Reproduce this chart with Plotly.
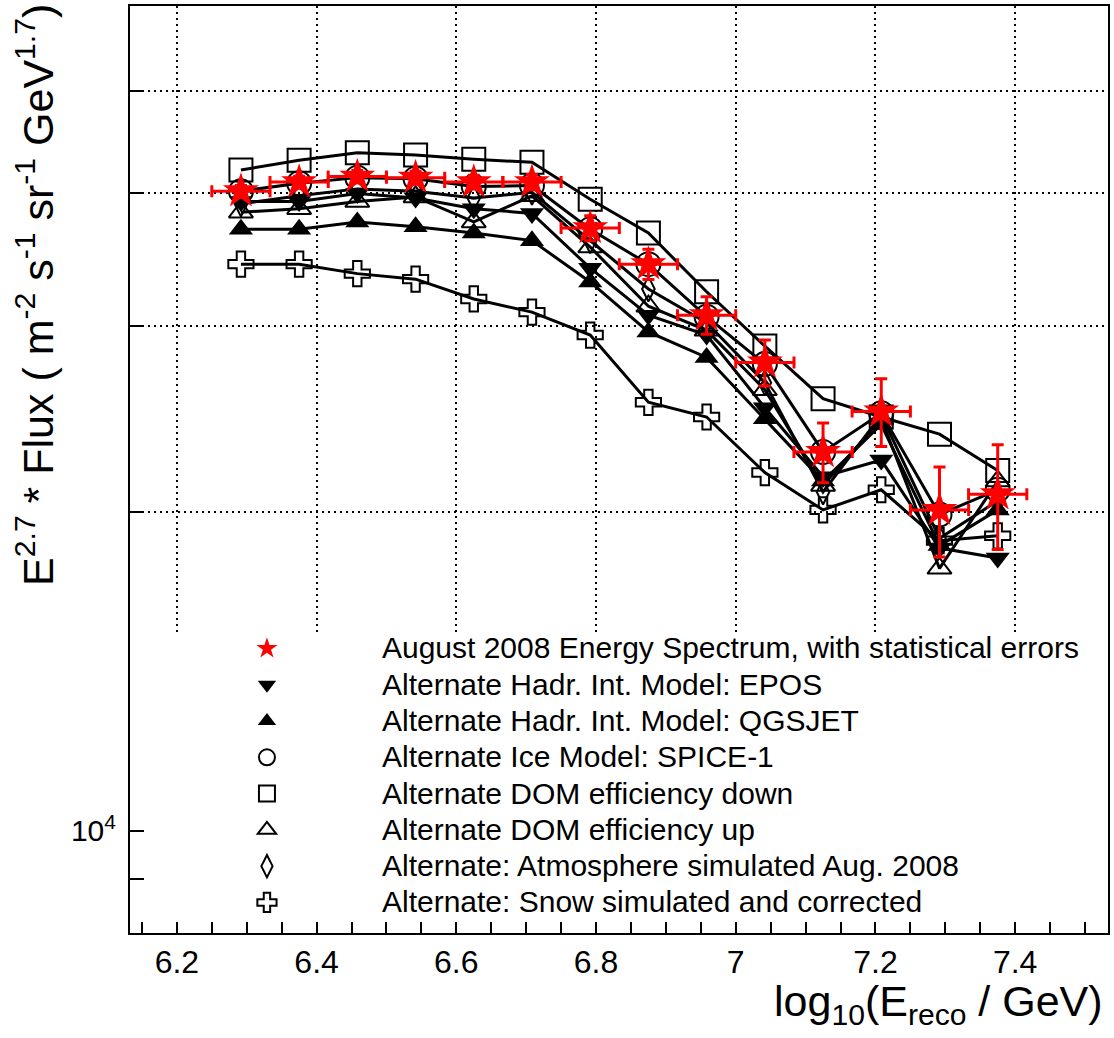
import plotly.graph_objects as go

# ---------------- data ----------------
log_e_reco = [6.2917, 6.375, 6.4583, 6.5417, 6.625, 6.7083, 6.7917,
              6.875, 6.9583, 7.0417, 7.125, 7.2083, 7.2917, 7.375]
bin_half_width = 0.0417

aug2008 = [40200, 41000, 41500, 41400, 41000, 41000, 37100,
           34300, 30700, 27700, 22800, 24900, 20100, 20800]
aug2008_err = [500, 520, 550, 580, 620, 680, 1000,
               1120, 1250, 1380, 1480, 1830, 1960, 2360]

epos = [39300, 39300, 40000, 39600, 38700, 38300, 34000,
        30700, 29400, 25100, 21600, 22400, 18500, 18100]
qgsjet = [37000, 37000, 37600, 37200, 36700, 36100, 33000,
          29600, 28000, 24500, 21400, 24200, 18600, 20100]
spice1 = [40200, 40900, 41400, 41300, 40600, 40700, 37000,
          34300, 30600, 27600, 22800, 24800, 19900, 21000]
dom_down = [42100, 43000, 43700, 43500, 43100, 42800, 39500,
            36700, 32300, 28700, 25600, 24600, 23700, 21900]
dom_up = [38400, 38700, 39300, 39700, 37600, 39800, 35600,
          31300, 29700, 26100, 21200, 24500, 17700, 21400]
atmosphere = [39100, 39800, 40400, 40200, 39600, 40100, 36100,
              32500, 30200, 26500, 20900, 24700, 18900, 20500]
snow = [34300, 34300, 33600, 33200, 31800, 30900, 29400,
        25400, 24600, 21800, 20100, 21000, 18800, 19000]

y_label_vals = [9000, 10000]
y_label_text = ["", "10<sup>4</sup>"]
y_grid_vals = [20000, 30000, 40000, 50000]

FONT = "Liberation Sans, Arial, Helvetica, sans-serif"

series = [
    ("Alternate Hadr. Int. Model: EPOS", epos,
     dict(symbol="triangle-down", size=21, color="black")),
    ("Alternate Hadr. Int. Model: QGSJET", qgsjet,
     dict(symbol="triangle-up", size=21, color="black")),
    ("Alternate Ice Model: SPICE-1", spice1,
     dict(symbol="circle-open", size=24, color="black", line=dict(width=2, color="black"))),
    ("Alternate DOM efficiency down", dom_down,
     dict(symbol="square-open", size=23, color="black", line=dict(width=2, color="black"))),
    ("Alternate DOM efficiency up", dom_up,
     dict(symbol="triangle-up-open", size=21, color="black", line=dict(width=2, color="black"))),
    ("Alternate: Atmosphere simulated Aug. 2008", atmosphere,
     dict(symbol="diamond-tall-open", size=18, color="black", line=dict(width=2, color="black"))),
    ("Alternate: Snow simulated and corrected", snow,
     dict(symbol="cross-open", size=21, color="black", line=dict(width=2, color="black"))),
]
star_name = "August 2008 Energy Spectrum, with statistical errors"
star_marker = dict(symbol="star", size=27, color="#ff0000", line=dict(width=0))


def legend_label(s):
    return '<span style="font-size:30px">' + s + "</span>"


fig = go.Figure()

# data traces
for name, vals, mk in series:
    fig.add_trace(go.Scatter(
        x=log_e_reco, y=vals, mode="lines+markers", name=name,
        line=dict(color="black", width=3), marker=mk, showlegend=False))

fig.add_trace(go.Scatter(
    x=log_e_reco, y=aug2008, mode="markers", name=star_name,
    marker=star_marker, showlegend=False,
    error_y=dict(type="data", array=aug2008_err, color="#ff0000", thickness=3, width=6),
    error_x=dict(type="constant", value=bin_half_width, color="#ff0000", thickness=3, width=6)))

# legend-only entries (markers only, like the ROOT legend)
fig.add_trace(go.Scatter(x=[None], y=[None], mode="markers",
                         name=legend_label(star_name), marker=star_marker))
for name, vals, mk in series:
    fig.add_trace(go.Scatter(x=[None], y=[None], mode="markers",
                             name=legend_label(name), marker=mk))

# white legend pad covering the grid in the lower part of the frame
fig.add_shape(type="rect", xref="x domain", yref="y domain",
              x0=0.02, x1=0.99, y0=0.0129, y1=0.3244, layer="above",
              fillcolor="white", line=dict(width=0))

fig.update_layout(
    width=1114, height=1038,
    margin=dict(l=130, r=4, t=5, b=105),
    plot_bgcolor="white", paper_bgcolor="white",
    font=dict(family=FONT, size=30, color="black"),
    showlegend=True,
    legend=dict(x=0.02245, y=0.3319, xanchor="left", yanchor="top",
                bgcolor="rgba(0,0,0,0)", borderwidth=0,
                font=dict(family=FONT, size=25.6, color="black"),
                itemwidth=220, tracegroupgap=0, traceorder="normal"),
    xaxis=dict(range=[6.1329, 7.5329], tickmode="linear", tick0=6.2, dtick=0.2,
               ticks="inside", ticklen=11, tickwidth=2, tickcolor="black",
               showline=True, linewidth=2, linecolor="black", mirror=True,
               showgrid=True, gridcolor="black", gridwidth=2, griddash="2px,4px",
               zeroline=False, tickfont=dict(family=FONT, size=32),
               minor=dict(dtick=0.05, tick0=6.2, ticks="inside", ticklen=11,
                          tickwidth=2, tickcolor="black", showgrid=False)),
    yaxis=dict(type="log", range=[3.9036, 4.7791], tickmode="array",
               tickvals=y_label_vals, ticktext=y_label_text,
               ticks="inside", ticklen=14, tickwidth=2, tickcolor="black",
               showline=True, linewidth=2, linecolor="black", mirror=True,
               showgrid=False, zeroline=False, tickfont=dict(family=FONT, size=30),
               ticklabelstandoff=6,
               minor=dict(tickmode="array", tickvals=y_grid_vals, ticks="inside",
                          ticklen=14, tickwidth=2, tickcolor="black",
                          showgrid=True, gridcolor="black", gridwidth=2,
                          griddash="2px,4px")),
)

# axis titles (ROOT style: aligned to the end of the axes)
fig.add_annotation(
    text="log<sub>10</sub>(E<sub>reco</sub> / GeV)", xref="paper", yref="paper",
    x=0.9969, y=-0.0765, xanchor="right", yanchor="middle", showarrow=False,
    font=dict(family=FONT, size=43, color="black"))
fig.add_annotation(
    text="E<sup>2.7</sup> * Flux ( m<sup>-2</sup> s<sup>-1</sup> sr<sup>-1</sup> GeV<sup>1.7</sup>)",
    xref="paper", yref="paper", x=-0.097, y=0.6885, xanchor="center", yanchor="middle",
    textangle=-90, showarrow=False, font=dict(family=FONT, size=43, color="black"))

fig.write_html("out.html", config={"displayModeBar": False},
               post_script="document.body.style.margin='0';document.body.style.overflow='hidden';")
